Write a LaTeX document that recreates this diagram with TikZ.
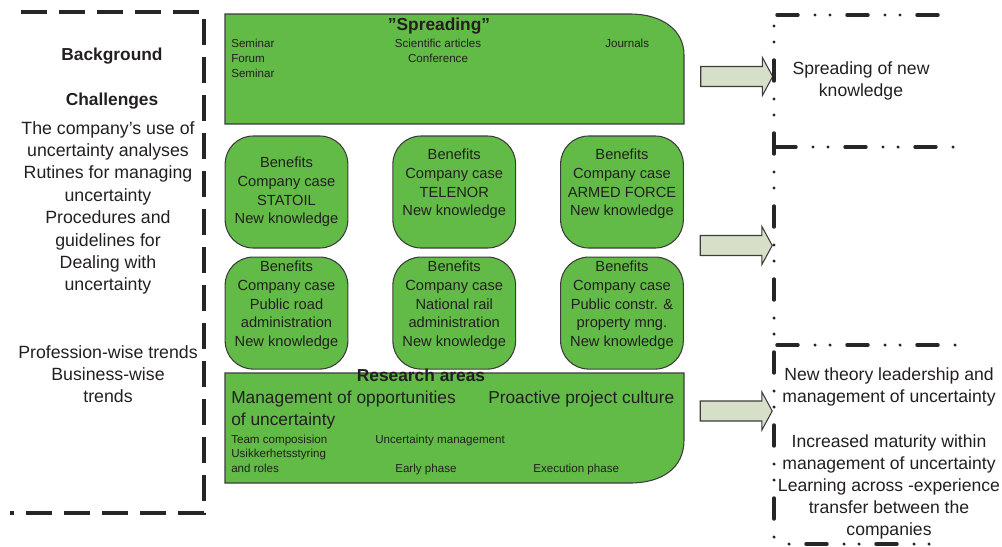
\documentclass[tikz,border=0pt]{standalone}
\usepackage{fontspec}
\setmainfont{Liberation Sans}
\usetikzlibrary{positioning, shapes.arrows}

\definecolor{caseGreen}{RGB}{98,187,70}
\definecolor{edgeGray}{RGB}{60,60,60}
\definecolor{arrowFill}{RGB}{214,224,200}
\definecolor{inkGray}{RGB}{35,31,32}

\newcommand{\smalltxt}{\fontsize{8.7}{11.2}\selectfont}
\newcommand{\boxtxt}{\fontsize{11}{14}\selectfont}
\newcommand{\sidetxt}{\fontsize{13.3}{16.8}\selectfont}
\newcommand{\outtxt}{\fontsize{13.2}{16.5}\selectfont}
\newcommand{\areatxt}{\fontsize{13}{16.5}\selectfont}
\newcommand{\headtxt}{\fontsize{13}{15}\selectfont\bfseries}

\begin{document}
\begin{tikzpicture}[x=0.75pt, y=-0.75pt, inner sep=0pt, text=inkGray,
    casebox/.style={draw=edgeGray, fill=caseGreen, line width=0.8pt, rounded corners=21pt,
        minimum width=92pt, minimum height=84pt, align=center, font=\boxtxt},
    greenframe/.style={draw=edgeGray, fill=caseGreen, line width=0.8pt},
    spreadarrow/.style={single arrow, draw=edgeGray, fill=arrowFill, line width=0.8pt,
        inner xsep=0pt, inner ysep=7.1pt, minimum height=54pt,
        single arrow head extend=6.75pt, single arrow tip angle=123},
    leftframe/.style={draw=black!85, line width=3pt, dash pattern=on 19.5pt off 9pt},
    dotframe/.style={draw=black!85, line width=2.6pt, line cap=round,
        dash pattern=on 15.75pt off 12.75pt on 0pt off 11.25pt on 0pt off 12.75pt},
    dotframeV/.style={draw=black!85, line width=2.6pt, line cap=round,
        dash pattern=on 15.75pt off 13.5pt on 0pt off 12pt on 0pt off 13.5pt}]
    \useasboundingbox (0,0) rectangle (1002,546);

    % background column
    \draw[leftframe] (21,12) -- (204,12) -- (204,513) -- (10,513);
    \node[font=\headtxt, anchor=base] (background) at (112,60) {Background};
    \node[font=\headtxt, anchor=base] (challenges) at (112,105) {Challenges};
    \node[font=\sidetxt, align=center, anchor=north] (issues) at (108,121)
        {The company’s use of\\uncertainty analyses\\Rutines for managing\\uncertainty\\Procedures and\\guidelines for\\Dealing with\\uncertainty};
    \node[font=\sidetxt, align=center, anchor=north] (trends) at (108,345)
        {Profession-wise trends\\Business-wise\\trends};

    % spreading
    \draw[greenframe] (225,124) -- (225,14) -- (630,14) .. controls (662,14) and (684,30) .. (684,55) -- (684,124) -- cycle;
    \node[font=\headtxt, anchor=base] (spreadTitle) at (439,30) {”Spreading”};
    \node[font=\smalltxt, anchor=base west] (seminarA) at (231,47) {Seminar};
    \node[font=\smalltxt, anchor=base west] (forum) at (231,62) {Forum};
    \node[font=\smalltxt, anchor=base west] (seminarB) at (231,77) {Seminar};
    \node[font=\smalltxt, anchor=base] (sciArticles) at (438,47) {Scientific articles};
    \node[font=\smalltxt, anchor=base] (conference) at (438,62) {Conference};
    \node[font=\smalltxt, anchor=base west] (journals) at (605,47) {Journals};

    % company cases
    \node[casebox] (statoil) at (286.5,192) {Benefits\\Company case\\STATOIL\\New knowledge};
    \node[casebox, right=33pt of statoil] (telenor) {Benefits\\Company case\\TELENOR\\New knowledge\\\mbox{}};
    \node[casebox, right=33pt of telenor] (armed) {Benefits\\Company case\\ARMED FORCE\\New knowledge\\\mbox{}};
    \node[casebox, below=6pt of statoil] (road) {Benefits\\Company case\\Public road\\administration\\New knowledge\\\mbox{}};
    \node[casebox, below=6pt of telenor] (rail) {Benefits\\Company case\\National rail\\administration\\New knowledge\\\mbox{}};
    \node[casebox, below=6pt of armed] (constr) {Benefits\\Company case\\Public constr. \&\\property mng.\\New knowledge\\\mbox{}};

    % research areas
    \draw[greenframe] (225,373) -- (684,373) -- (684,440) .. controls (684,468) and (662,483) .. (630,483) -- (225,483) -- cycle;
    \node[font=\headtxt, anchor=base] (resTitle) at (421,381) {Research areas};
    \node[font=\areatxt, anchor=base west] (mgmtOpp) at (231,403) {Management of opportunities};
    \node[font=\areatxt, anchor=base west] (ofUnc) at (231,425) {of uncertainty};
    \node[font=\areatxt, anchor=base west] (proactive) at (488,403) {Proactive project culture};
    \node[font=\smalltxt, anchor=base west] (team) at (231,443) {Team composision};
    \node[font=\smalltxt, anchor=base west] (uncMgmt) at (375,443) {Uncertainty management};
    \node[font=\smalltxt, anchor=base west] (usikker) at (231,457) {Usikkerhetsstyring};
    \node[font=\smalltxt, anchor=base west] (roles) at (231,472) {and roles};
    \node[font=\smalltxt, anchor=base west] (early) at (395,472) {Early phase};
    \node[font=\smalltxt, anchor=base west] (exec) at (533,472) {Execution phase};

    % outputs
    \node[spreadarrow] (arrSpread) at (734,76.5) {};
    \node[spreadarrow] (arrCases) at (733.5,245.5) {};
    \node[spreadarrow] (arrResearch) at (733.5,411) {};

    \draw[dotframeV, dash phase=21pt] (774,15) -- (774,546);
    \draw[dotframe] (777,15) -- (940,15);
    \draw[dotframe] (775,147) -- (954,147);
    \draw[dotframe] (777,345) -- (958,345);
    \draw[dotframe, dash phase=28.5pt] (774,544) -- (935,544);

    \node[font=\outtxt, align=center, anchor=north] (spreadOut) at (861,61)
        {Spreading of new\\knowledge};
    \node[font=\outtxt, align=center, anchor=north] (theoryOut) at (889,367)
        {New theory leadership and\\management of uncertainty};
    \node[font=\outtxt, align=center, anchor=north] (maturityOut) at (889,434)
        {Increased maturity within\\management of uncertainty\\Learning across -experience\\transfer between the\\companies};
\end{tikzpicture}
\end{document}
